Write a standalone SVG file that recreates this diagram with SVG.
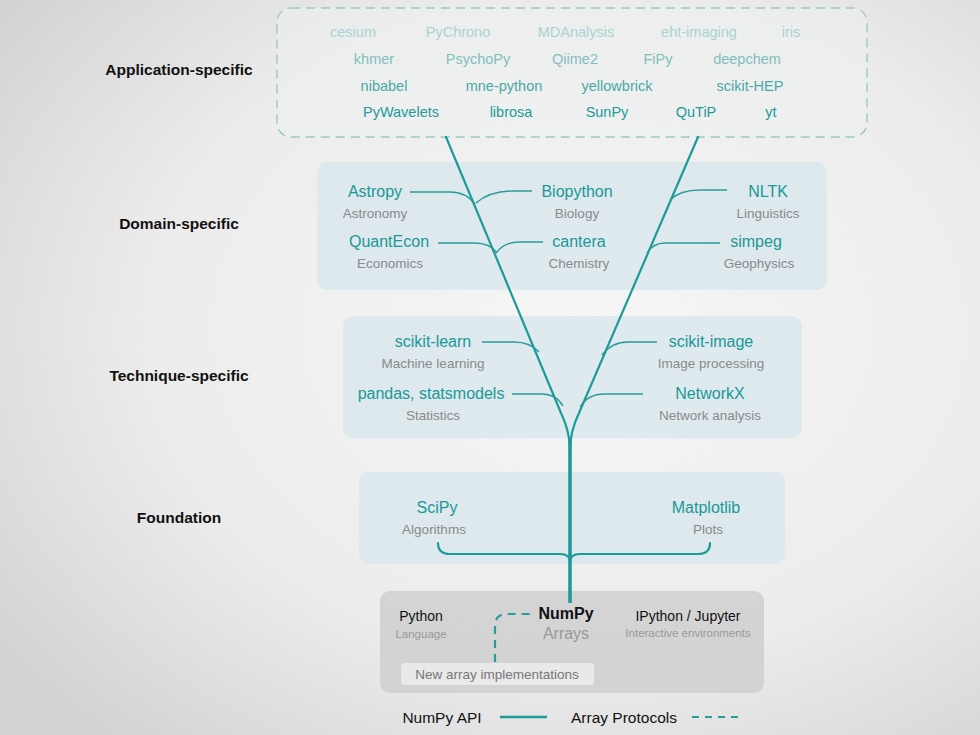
<svg xmlns="http://www.w3.org/2000/svg" width="980" height="735" viewBox="0 0 980 735">
<defs>
<radialGradient id="bg" cx="0.6" cy="0.45" r="0.75">
<stop offset="0" stop-color="#f6f6f6"/>
<stop offset="0.6" stop-color="#ececec"/>
<stop offset="1" stop-color="#d2d2d2"/>
</radialGradient>
<style>
text{font-family:"Liberation Sans",Arial,sans-serif;text-anchor:middle}
.lvl{font-weight:bold;font-size:15.5px;fill:#111}
.app{font-size:14.5px}
.r1{fill:#a9d3d1}.r2{fill:#80bfbc}.r3{fill:#4aa8a6}.r4{fill:#22999a}
.nm{font-size:16px;fill:#1a9898}
.sub{font-size:13.5px;fill:#8a8a8a}
.panel{fill:#d9e7eb;opacity:0.85}
.br{fill:none;stroke:#1d9a9a;stroke-width:2.2;stroke-linecap:round;stroke-linejoin:round}
.tw{fill:none;stroke:#2a9c9a;stroke-width:1.4}
.dash{fill:none;stroke:#2a9c9c;stroke-width:2.2;stroke-dasharray:8 6}
.blk{font-size:14px;fill:#111}
.sm{font-size:11.5px;fill:#9a9a9a}
</style>
</defs>
<rect width="980" height="735" fill="url(#bg)"/>

<g id="labels">
<text class="lvl" x="179" y="75">Application-specific</text>
<text class="lvl" x="179" y="229">Domain-specific</text>
<text class="lvl" x="179" y="381">Technique-specific</text>
<text class="lvl" x="179" y="523">Foundation</text>
</g>

<g id="application">
<rect x="277" y="8" width="590" height="129" rx="14" fill="#eef1f1" fill-opacity="0.5" stroke="#9cc9c5" stroke-width="1.4" stroke-dasharray="9 6"/>
<text class="app r1" x="353" y="37">cesium</text>
<text class="app r1" x="458" y="37">PyChrono</text>
<text class="app r1" x="576" y="37">MDAnalysis</text>
<text class="app r1" x="699" y="37">eht-imaging</text>
<text class="app r1" x="791" y="37">iris</text>
<text class="app r2" x="374" y="64">khmer</text>
<text class="app r2" x="478" y="64">PsychoPy</text>
<text class="app r2" x="575" y="64">Qiime2</text>
<text class="app r2" x="658" y="64">FiPy</text>
<text class="app r2" x="747" y="64">deepchem</text>
<text class="app r3" x="384" y="91">nibabel</text>
<text class="app r3" x="504" y="91">mne-python</text>
<text class="app r3" x="617" y="91">yellowbrick</text>
<text class="app r3" x="750" y="91">scikit-HEP</text>
<text class="app r4" x="401" y="117">PyWavelets</text>
<text class="app r4" x="511" y="117">librosa</text>
<text class="app r4" x="607" y="117">SunPy</text>
<text class="app r4" x="696" y="117">QuTiP</text>
<text class="app r4" x="771" y="117">yt</text>
</g>

<g id="domain">
<rect class="panel" x="317" y="162" width="510" height="128" rx="10"/>
<text class="nm" x="375" y="197">Astropy</text>
<text class="sub" x="375" y="218">Astronomy</text>
<text class="nm" x="577" y="197">Biopython</text>
<text class="sub" x="577" y="218">Biology</text>
<text class="nm" x="768" y="197">NLTK</text>
<text class="sub" x="768" y="218">Linguistics</text>
<text class="nm" x="389" y="247">QuantEcon</text>
<text class="sub" x="390" y="268">Economics</text>
<text class="nm" x="579" y="247">cantera</text>
<text class="sub" x="579" y="268">Chemistry</text>
<text class="nm" x="756" y="247">simpeg</text>
<text class="sub" x="759" y="268">Geophysics</text>
</g>

<g id="technique">
<rect class="panel" x="343" y="316" width="459" height="122" rx="10"/>
<text class="nm" x="433" y="347">scikit-learn</text>
<text class="sub" x="433" y="368">Machine learning</text>
<text class="nm" x="711" y="347">scikit-image</text>
<text class="sub" x="711" y="368">Image processing</text>
<text class="nm" x="431" y="399">pandas, statsmodels</text>
<text class="sub" x="433" y="420">Statistics</text>
<text class="nm" x="710" y="399">NetworkX</text>
<text class="sub" x="710" y="420">Network analysis</text>
</g>

<g id="foundation">
<rect class="panel" x="359" y="472" width="426" height="92" rx="10"/>
<text class="nm" x="437" y="513">SciPy</text>
<text class="sub" x="434" y="534">Algorithms</text>
<text class="nm" x="706" y="513">Matplotlib</text>
<text class="sub" x="708" y="534">Plots</text>
</g>

<g id="numpy">
<rect x="380" y="591" width="384" height="102" rx="10" fill="#cfcfcf" opacity="0.85"/>
<text class="blk" x="421" y="621">Python</text>
<text class="sm" x="421" y="638">Language</text>
<text x="566" y="619" font-size="16" font-weight="bold" fill="#111">NumPy</text>
<text x="566" y="639" font-size="16" fill="#999">Arrays</text>
<text class="blk" x="688" y="621">IPython / Jupyter</text>
<text class="sm" x="688" y="637">Interactive environments</text>
</g>

<g id="new-array">
<rect x="401" y="663" width="193" height="22" rx="3" fill="#e9e9e9"/>
<text x="497" y="679" font-size="13.5" fill="#777">New array implementations</text>
</g>

<g id="connectors">
<path class="br" d="M446,137 L561,413 Q570,432 570,450"/>
<path class="br" d="M698,137 L579,413 Q570,432 570,450"/>
<path d="M570,440 L570,603" fill="none" stroke="#1d9a9a" stroke-width="3.6"/>
<path class="tw" d="M410,192 L450,192 Q466,192 475,204"/>
<path class="tw" d="M532,191 L512,191 Q490,191 476,203"/>
<path class="tw" d="M438,243 L475,243 Q490,243 497,253"/>
<path class="tw" d="M543,242 L520,242 Q504,242 497,252"/>
<path class="tw" d="M727,190 L700,190 Q680,190 670,200"/>
<path class="tw" d="M720,243 L665,243 Q653,243 647,253"/>
<path class="tw" d="M482,342 L514,342 Q530,342 539,352"/>
<path class="tw" d="M657,342 L628,342 Q612,342 602,355"/>
<path class="tw" d="M512,394 L542,394 Q556,394 563,406"/>
<path class="tw" d="M643,394 L604,394 Q588,394 580,407"/>
<path class="br" d="M438,543 Q438,554 450,554 L560,554 Q570,554 570,562"/>
<path class="br" d="M710,543 Q710,554 698,554 L580,554 Q570,554 570,562"/>
<path class="dash" d="M495,662 L495,626 Q495,614 507,614 L532,614"/>
</g>

<g id="legend">
<text x="442" y="723" font-size="15.5" fill="#111">NumPy API</text>
<line x1="500" y1="717" x2="547" y2="717" stroke="#1d9a9a" stroke-width="2.5"/>
<text x="624" y="723" font-size="15.5" fill="#111">Array Protocols</text>
<line x1="692" y1="717" x2="740" y2="717" stroke="#2a9c9c" stroke-width="2.2" stroke-dasharray="7 6"/>
</g>
</svg>
